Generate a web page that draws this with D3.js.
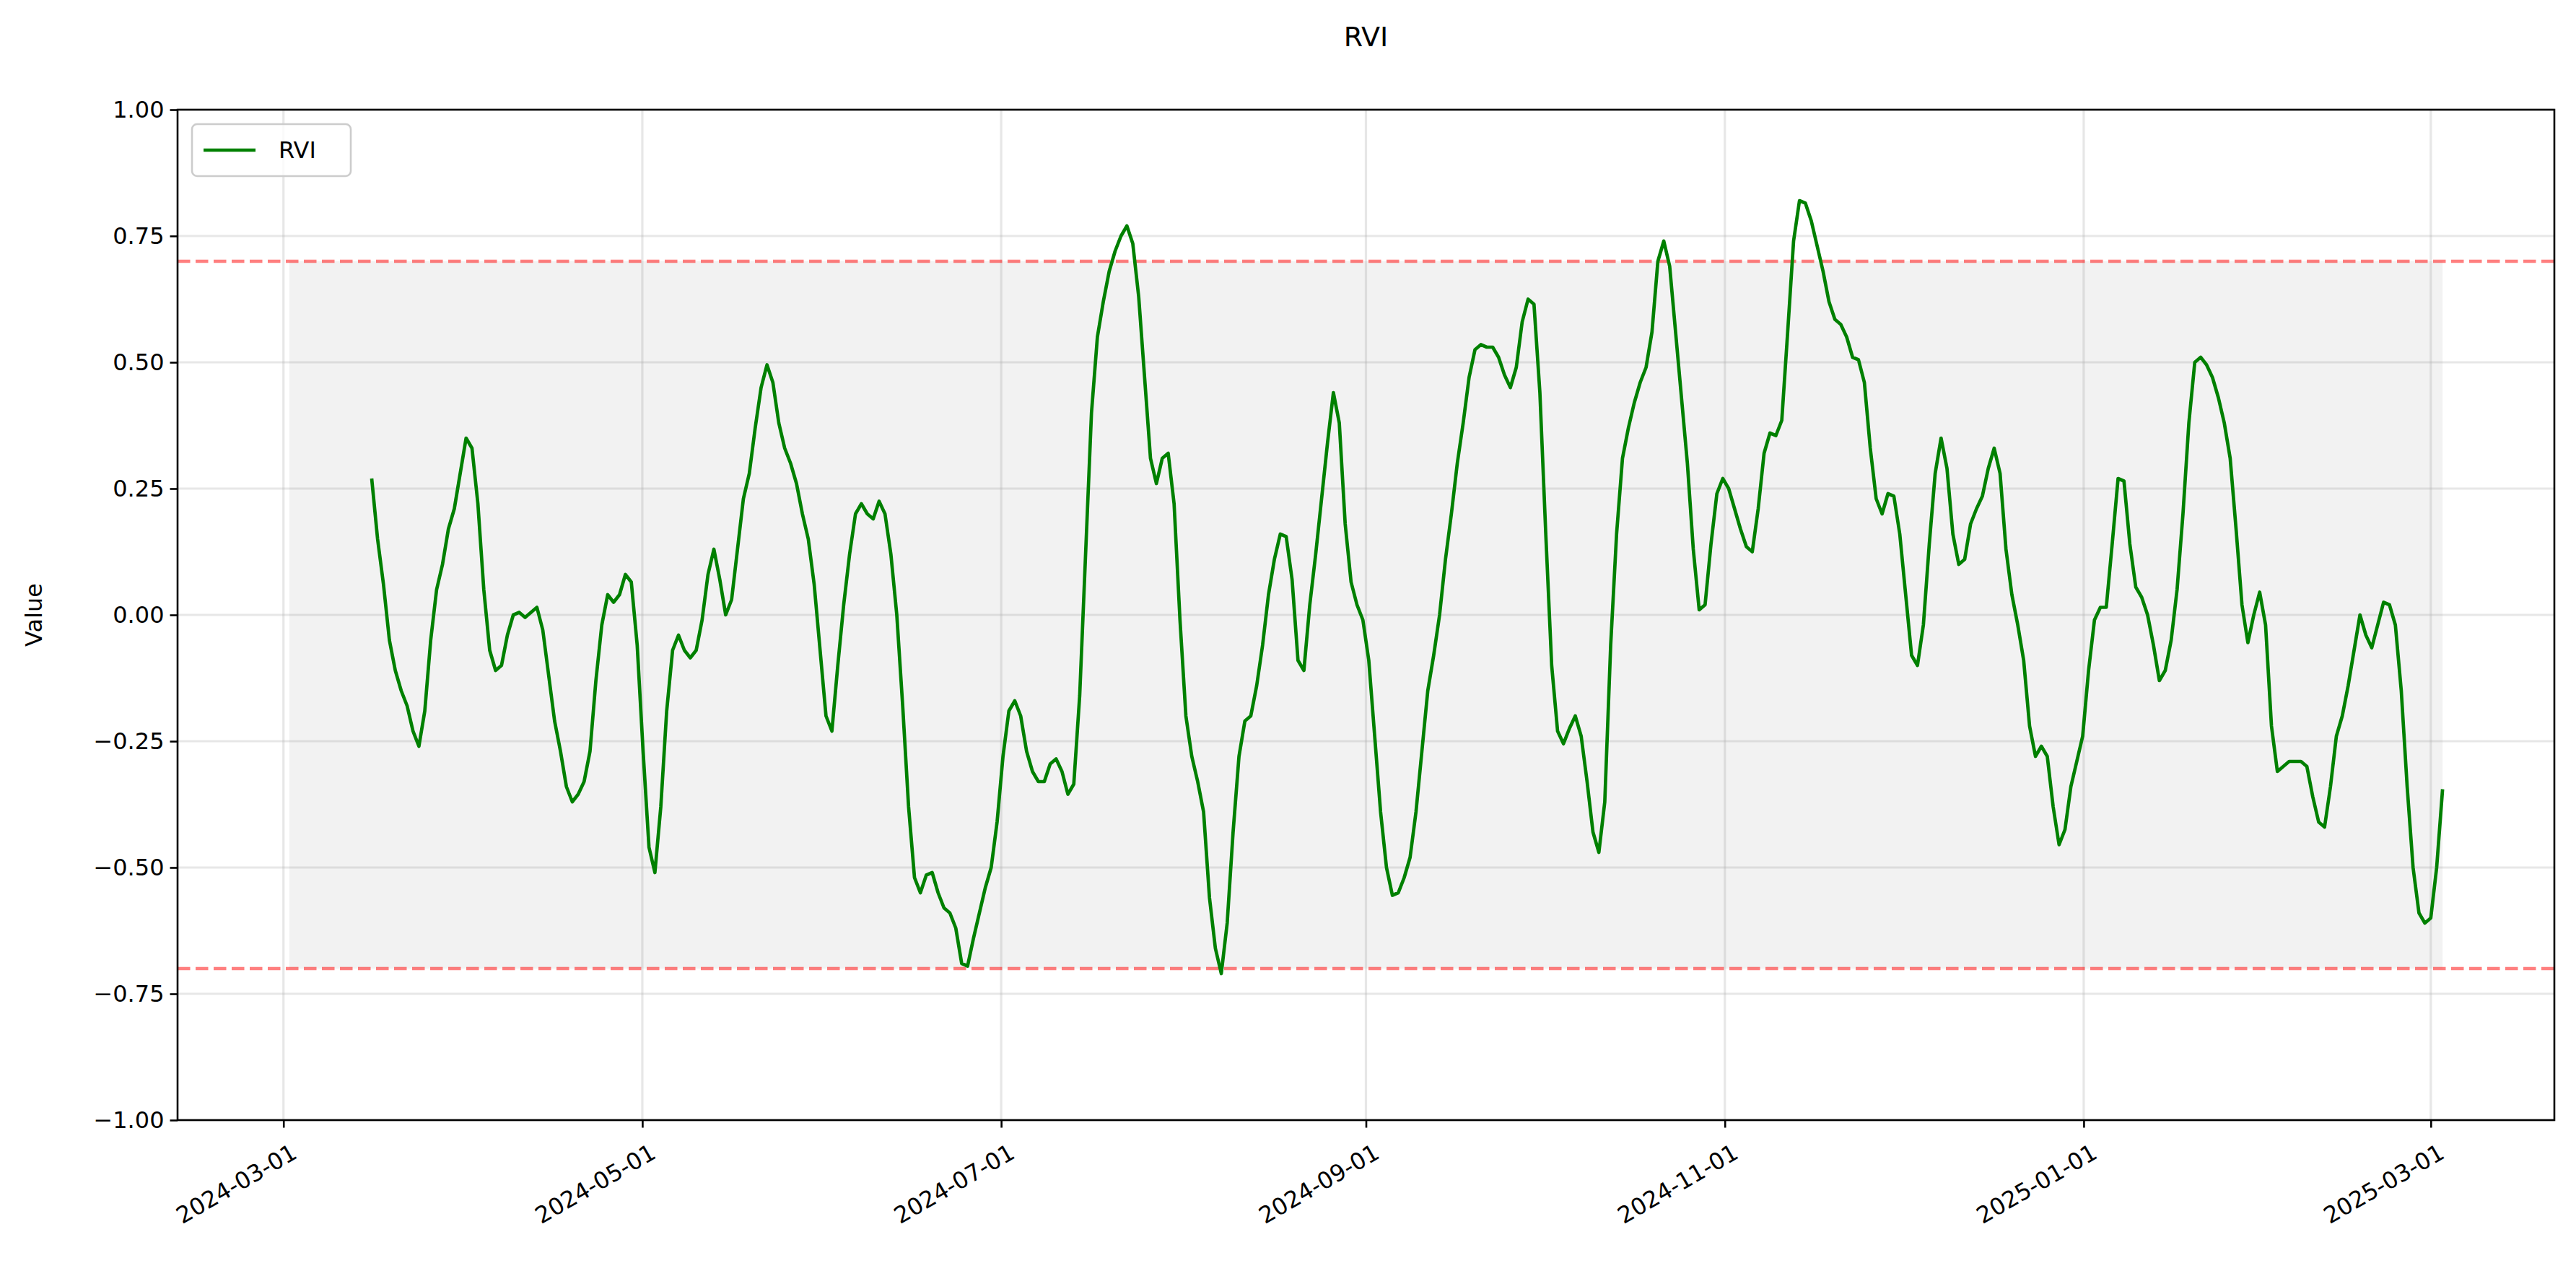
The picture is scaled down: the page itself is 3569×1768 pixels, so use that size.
<!DOCTYPE html>
<html><head><meta charset="utf-8">
<script src="https://cdn.jsdelivr.net/npm/d3@7"></script>
<style>body{margin:0;background:#fff}svg{font-family:"DejaVu Sans",sans-serif}</style>
</head><body><svg id="c" width="3569" height="1768"></svg>
<script>
const seriesName = "RVI";
const firstDate = "2024-03-16", lastDate = "2025-03-03";
const bandStart = "2024-03-02", bandEnd = "2025-03-03";
const upperLevel = 0.7, lowerLevel = -0.7;
const xTickLabels = ["2024-03-01","2024-05-01","2024-07-01","2024-09-01","2024-11-01","2025-01-01","2025-03-01"];
const yTickValues = [-1,-0.75,-0.5,-0.25,0,0.25,0.5,0.75,1];
const rviValues = [0.27,0.15,0.06,-0.05,-0.11,-0.15,-0.18,-0.23,-0.26,-0.19,-0.05,0.05,0.10,0.17,0.21,0.28,0.35,0.33,0.22,0.05,-0.07,-0.11,-0.10,-0.04,0.00,0.005,-0.005,0.005,0.015,-0.03,-0.12,-0.21,-0.27,-0.34,-0.37,-0.355,-0.33,-0.27,-0.13,-0.02,0.04,0.025,0.04,0.08,0.065,-0.06,-0.27,-0.46,-0.51,-0.38,-0.19,-0.07,-0.04,-0.07,-0.085,-0.07,-0.01,0.08,0.13,0.07,0.00,0.03,0.13,0.23,0.28,0.37,0.45,0.495,0.46,0.38,0.33,0.30,0.26,0.20,0.15,0.06,-0.07,-0.20,-0.23,-0.10,0.02,0.12,0.20,0.22,0.20,0.19,0.225,0.20,0.12,0.00,-0.18,-0.38,-0.52,-0.55,-0.515,-0.51,-0.55,-0.58,-0.59,-0.62,-0.69,-0.695,-0.64,-0.59,-0.54,-0.50,-0.41,-0.28,-0.19,-0.17,-0.20,-0.27,-0.31,-0.33,-0.33,-0.295,-0.285,-0.31,-0.355,-0.335,-0.16,0.12,0.40,0.55,0.62,0.68,0.72,0.75,0.77,0.735,0.63,0.47,0.31,0.26,0.31,0.32,0.22,-0.01,-0.20,-0.28,-0.33,-0.39,-0.56,-0.66,-0.71,-0.61,-0.43,-0.28,-0.21,-0.20,-0.14,-0.06,0.04,0.11,0.16,0.155,0.07,-0.09,-0.11,0.02,0.12,0.23,0.34,0.44,0.38,0.18,0.065,0.02,-0.01,-0.09,-0.24,-0.39,-0.50,-0.555,-0.55,-0.52,-0.48,-0.39,-0.27,-0.15,-0.08,0.00,0.11,0.20,0.30,0.38,0.47,0.525,0.535,0.53,0.53,0.51,0.475,0.45,0.49,0.58,0.625,0.615,0.44,0.16,-0.10,-0.23,-0.255,-0.225,-0.20,-0.24,-0.33,-0.43,-0.47,-0.37,-0.06,0.16,0.31,0.37,0.42,0.46,0.49,0.56,0.70,0.74,0.69,0.56,0.43,0.30,0.13,0.01,0.02,0.14,0.24,0.27,0.25,0.21,0.17,0.135,0.125,0.21,0.32,0.36,0.355,0.385,0.56,0.74,0.82,0.815,0.78,0.73,0.68,0.62,0.585,0.575,0.55,0.51,0.505,0.46,0.33,0.23,0.20,0.24,0.235,0.16,0.04,-0.08,-0.10,-0.02,0.14,0.28,0.35,0.29,0.16,0.10,0.11,0.18,0.21,0.235,0.29,0.33,0.28,0.13,0.04,-0.02,-0.09,-0.22,-0.28,-0.26,-0.28,-0.38,-0.455,-0.425,-0.34,-0.29,-0.24,-0.11,-0.01,0.015,0.015,0.14,0.27,0.265,0.14,0.055,0.035,0.00,-0.06,-0.13,-0.11,-0.05,0.05,0.20,0.38,0.50,0.51,0.495,0.47,0.43,0.38,0.31,0.17,0.02,-0.055,0.00,0.045,-0.02,-0.22,-0.31,-0.30,-0.29,-0.29,-0.29,-0.30,-0.36,-0.41,-0.42,-0.34,-0.24,-0.20,-0.14,-0.07,0.00,-0.04,-0.065,-0.02,0.025,0.02,-0.02,-0.15,-0.34,-0.50,-0.59,-0.61,-0.60,-0.50,-0.345];

const parse = d3.utcParse("%Y-%m-%d");
const t0 = parse(firstDate), t1 = parse(lastDate);
const n = rviValues.length;
const data = rviValues.map((v,i)=>({date:new Date(+t0 + (t1-t0)*i/(n-1)), v}));

const svg = d3.select("#c");
const m = {l:246, r:3539, t:152, b:1552};
const x = d3.scaleUtc().domain([parse("2024-02-12"), parse("2025-03-22")]).range([m.l, m.r]);
const y = d3.scaleLinear().domain([-1,1]).range([m.b, m.t]);
const fs = 32;

// grid
const g = svg.append("g");
xTickLabels.forEach(s=>g.append("line").attr("x1",x(parse(s))).attr("x2",x(parse(s))).attr("y1",m.t).attr("y2",m.b).attr("stroke","#b0b0b0").attr("stroke-opacity",0.3).attr("stroke-width",3.2));
yTickValues.forEach(v=>g.append("line").attr("x1",m.l).attr("x2",m.r).attr("y1",y(v)).attr("y2",y(v)).attr("stroke","#b0b0b0").attr("stroke-opacity",0.3).attr("stroke-width",3.2));

// band
svg.append("rect").attr("x",x(parse(bandStart))).attr("width",x(parse(bandEnd))-x(parse(bandStart)))
  .attr("y",y(upperLevel)).attr("height",y(lowerLevel)-y(upperLevel)).attr("fill","gray").attr("fill-opacity",0.1);

// level lines
[upperLevel,lowerLevel].forEach(v=>svg.append("line").attr("x1",m.l).attr("x2",m.r).attr("y1",y(v)).attr("y2",y(v))
  .attr("stroke","red").attr("stroke-opacity",0.5).attr("stroke-width",4.7).attr("stroke-dasharray","17.5,7.5"));

// line
svg.append("path").datum(data).attr("fill","none").attr("stroke","green").attr("stroke-width",4.7).attr("stroke-linejoin","round")
  .attr("d",d3.line().x(d=>x(d.date)).y(d=>y(d.v)));

// axes frame
svg.append("rect").attr("x",m.l).attr("y",m.t).attr("width",m.r-m.l).attr("height",m.b-m.t).attr("fill","none").attr("stroke","#000").attr("stroke-width",2.6);

// y axis
const ya = d3.axisLeft(y).tickValues(yTickValues).tickFormat(d3.format(".2f")).tickSize(10.5).tickPadding(8);
const yg = svg.append("g").attr("transform",`translate(${m.l},0)`).call(ya);
yg.select(".domain").remove();
yg.selectAll("line").attr("stroke-width",2.6);
yg.selectAll("text").attr("font-size",fs).attr("font-family","DejaVu Sans").text(d=>d3.format(".2f")(d).replace("-","\u2212"));

// x axis
const xa = d3.axisBottom(x).tickValues(xTickLabels.map(parse)).tickFormat(d3.utcFormat("%Y-%m-%d")).tickSize(10.5).tickPadding(8);
const xg = svg.append("g").attr("transform",`translate(0,${m.b})`).call(xa);
xg.select(".domain").remove();
xg.selectAll("line").attr("stroke-width",2.6);
xg.selectAll("text").attr("font-size",fs).attr("font-family","DejaVu Sans")
  .attr("text-anchor","end").attr("dy","0.7em").attr("transform","translate(0,16) rotate(-30)");

// labels
svg.append("text").attr("x",(m.l+m.r)/2).attr("y",64).attr("text-anchor","middle").attr("font-size",38).text(seriesName);
svg.append("text").attr("transform",`translate(58,${(m.t+m.b)/2}) rotate(-90)`).attr("text-anchor","middle").attr("font-size",fs).text("Value");

// legend
const lg = svg.append("g").attr("transform",`translate(${m.l+20},${m.t+20})`);
lg.append("rect").attr("width",220).attr("height",72).attr("rx",7).attr("fill","#fff").attr("fill-opacity",0.8).attr("stroke","#ccc").attr("stroke-width",2.6);
lg.append("line").attr("x1",16).attr("x2",88).attr("y1",36).attr("y2",36).attr("stroke","green").attr("stroke-width",4.7);
lg.append("text").attr("x",120).attr("y",47).attr("font-size",fs).text(seriesName);
</script></body></html>
